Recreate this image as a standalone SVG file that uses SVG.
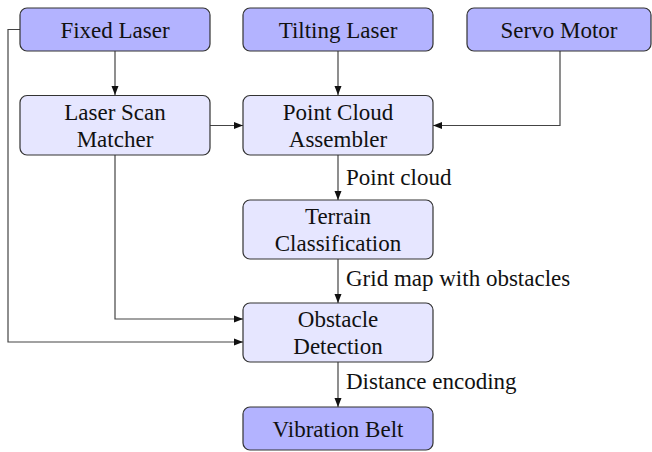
<svg xmlns="http://www.w3.org/2000/svg" width="652" height="452" viewBox="0 0 652 452" font-family="Liberation Serif, Times New Roman, serif" font-size="23">
<style>
text{fill:#111}
.c{text-anchor:middle}
.d{fill:#b3b3ff;stroke:#333;stroke-width:1.2}
.l{fill:#e6e6ff;stroke:#333;stroke-width:1.2}
.e{fill:none;stroke:#444;stroke-width:1.2}
</style>
<defs>
<marker id="a" markerWidth="10" markerHeight="8" refX="9" refY="4" orient="auto" markerUnits="userSpaceOnUse">
<path d="M0,0.5 L9,4 L0,7.5 Z" fill="#111"/>
</marker>
</defs>
<rect width="652" height="452" fill="#fff"/>
<g id="connectors">
<path class="e" d="M115,51 V95" marker-end="url(#a)"/>
<path class="e" d="M338,51 V95" marker-end="url(#a)"/>
<path class="e" d="M560,51 V125.5 H433" marker-end="url(#a)"/>
<path class="e" d="M210,125.5 H243" marker-end="url(#a)"/>
<path class="e" d="M338,155 V200" marker-end="url(#a)"/>
<text x="346" y="185">Point cloud</text>
<path class="e" d="M338,259 V303" marker-end="url(#a)"/>
<text x="346" y="286">Grid map with obstacles</text>
<path class="e" d="M115,155 V319 H243" marker-end="url(#a)"/>
<path class="e" d="M20,29.5 H8 V342 H243" marker-end="url(#a)"/>
<path class="e" d="M338,362 V407" marker-end="url(#a)"/>
<text x="346" y="389">Distance encoding</text>
</g>
<g id="fixed-laser"><rect class="d" x="20" y="8" width="190" height="43" rx="7"/><text class="c" x="115" y="37.5">Fixed Laser</text></g>
<g id="tilting-laser"><rect class="d" x="243" y="8" width="190" height="43" rx="7"/><text class="c" x="338" y="37.5">Tilting Laser</text></g>
<g id="servo-motor"><rect class="d" x="467" y="8" width="184" height="43" rx="7"/><text class="c" x="559" y="37.5">Servo Motor</text></g>
<g id="laser-scan-matcher"><rect class="l" x="20" y="95.5" width="190" height="59.5" rx="7"/><text class="c" x="115" y="119.5">Laser Scan</text><text class="c" x="115" y="146.5">Matcher</text></g>
<g id="point-cloud-assembler"><rect class="l" x="243" y="95.5" width="190" height="59.5" rx="7"/><text class="c" x="338" y="119.5">Point Cloud</text><text class="c" x="338" y="146.5">Assembler</text></g>
<g id="terrain-classification"><rect class="l" x="243" y="200" width="190" height="59" rx="7"/><text class="c" x="338" y="223.5">Terrain</text><text class="c" x="338" y="250.5">Classification</text></g>
<g id="obstacle-detection"><rect class="l" x="243" y="303" width="190" height="59" rx="7"/><text class="c" x="338" y="326.5">Obstacle</text><text class="c" x="338" y="353.5">Detection</text></g>
<g id="vibration-belt"><rect class="d" x="243" y="407" width="190" height="43" rx="7"/><text class="c" x="338" y="436.5">Vibration Belt</text></g>
</svg>
